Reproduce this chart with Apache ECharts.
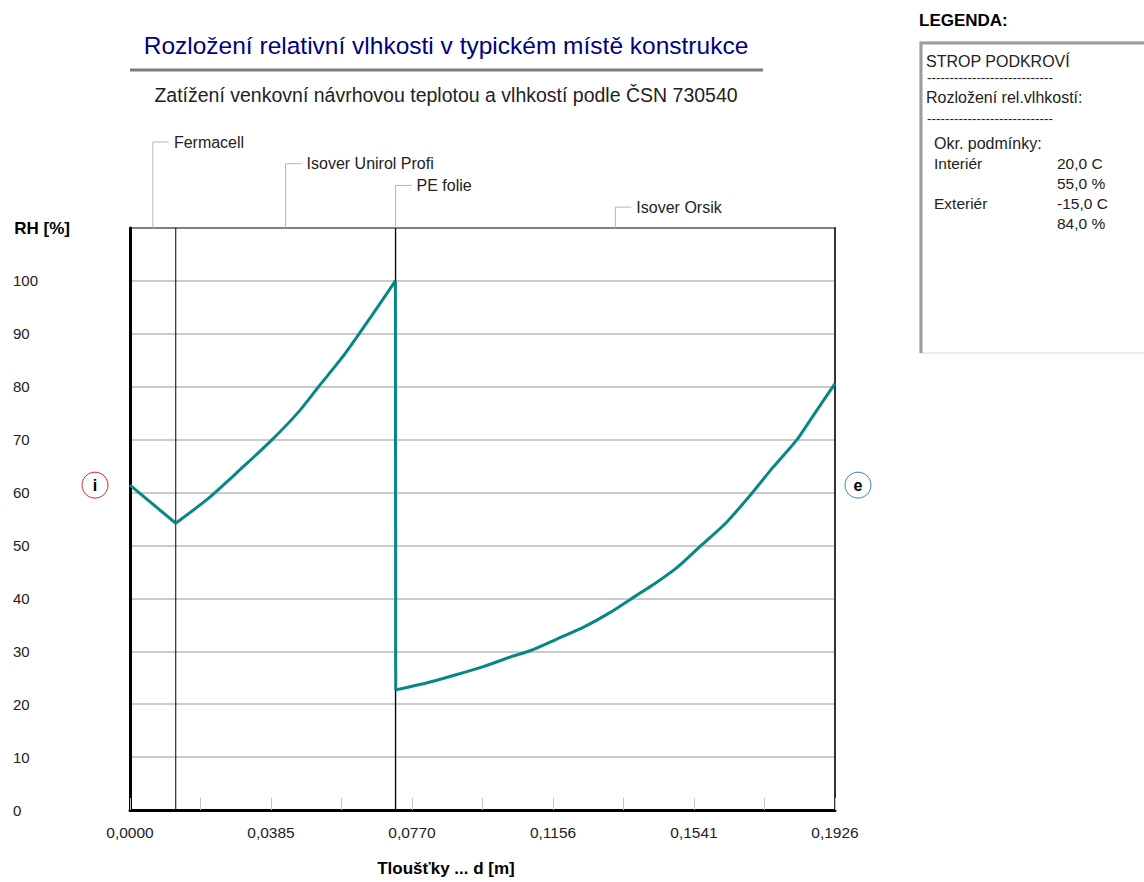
<!DOCTYPE html>
<html>
<head>
<meta charset="utf-8">
<title>Rozložení relativní vlhkosti</title>
<script src="https://cdn.jsdelivr.net/npm/echarts@6/dist/echarts.min.js"></script>
<style>
    html, body { margin: 0; padding: 0; background: #fff; }
    #chart { width: 1144px; height: 882px; }
</style>
</head>
<body>
<div id="chart"></div>
<script>
'use strict'

// vzdalenost od vnitrniho lice [m] a relativni vlhkost [%]
var depth = [0, 0.0125, 0.0214, 0.0305, 0.0387, 0.0460, 0.0514, 0.0587, 0.0660, 0.0725,
    0.0726, 0.0765, 0.0820, 0.0893, 0.0965, 0.1047, 0.1093, 0.1166, 0.1238, 0.1311,
    0.1389, 0.1430, 0.1494, 0.1562, 0.1630, 0.1703, 0.1757, 0.1821, 0.1867, 0.1926];
var rh = [61.4, 54.2, 58.9, 64.6, 69.9, 75.2, 79.9, 86.2, 93.4, 100.0,
    22.7, 23.3, 24.2, 25.6, 27.1, 29.1, 30.1, 32.3, 34.5, 37.3,
    40.8, 42.6, 45.8, 50.1, 54.4, 60.2, 64.8, 69.9, 74.6, 80.6];

// vrstvy konstrukce
var layerNames = ['Fermacell', 'Isover Unirol Profi', 'PE folie', 'Isover Orsik'];
var layerFrom = [0, 0.0125, 0.0725, 0.0726];
var layerTo = [0.0125, 0.0725, 0.0726, 0.1926];

var xTickLabels = ['0,0000', '0,0385', '0,0770', '0,1156', '0,1541', '0,1926'];
var yTickLabels = ['0', '10', '20', '30', '40', '50', '60', '70', '80', '90', '100'];

// legenda - okrajove podminky
var condNames = ['Interiér', '', 'Exteriér', ''];
var condValues = ['20,0 C', '55,0 %', '-15,0 C', '84,0 %'];

var FONT = "'Liberation Sans', Arial, sans-serif";
var Y_MAX = 110;
var LINE_COLOR = '#088787';

var myChart = echarts.init(document.getElementById('chart'), null, {renderer: 'svg'});

// usek krivky mezi indexy a..b (vcetne)
function segment(a, b) {
    var out = [];
    for (var i = a; i <= b; i++) {
        out.push([depth[i], rh[i]]);
    }
    return out;
}

// svisle cary na rozhrani vrstev
var boundPts = [];
for (var j = 0; j < layerTo.length - 1; j++) {
    boundPts.push([layerTo[j], 0], [layerTo[j], Y_MAX], [layerTo[j], null]);
}

// kazda vrstva zvlast, aby se zlomy na rozhrani nevyhladily
var cuts = [0];
for (var d = 1; d < depth.length; d++) {
    if (layerTo.indexOf(depth[d]) >= 0) cuts.push(d);
}
var rhSeries = [];
for (var s = 0; s < cuts.length - 1; s++) {
    var seg = segment(cuts[s], cuts[s + 1]);
    rhSeries.push({
        name: 'RH',
        type: 'line',
        data: seg,
        showSymbol: false,
        smooth: seg.length > 3 ? 0.25 : false,
        z: 3,
        lineStyle: {color: LINE_COLOR, width: 3},
        itemStyle: {color: LINE_COLOR}
    });
}

var option = {
    animation: false,
    textStyle: {fontFamily: FONT},
    grid: {
        left: 130, right: 309, top: 228, bottom: 70,
        show: true, borderColor: '#000', borderWidth: 1
    },
    xAxis: {
        type: 'value',
        min: 0,
        max: 0.1926,
        interval: 0.01926,
        name: 'Tloušťky ... d [m]',
        nameLocation: 'middle',
        nameGap: 50,
        nameTextStyle: {fontWeight: 'bold', fontSize: 17, color: '#000', padding: [0, 73, 0, 0]},
        axisLine: {lineStyle: {color: '#000', width: 3}},
        axisTick: {inside: true, length: 12, lineStyle: {color: '#c4c4c4', width: 1}},
        splitLine: {show: false},
        axisLabel: {
            margin: 14,
            fontSize: 15.5,
            color: '#222',
            formatter: function (v, idx) {
                return idx % 2 === 0 ? (xTickLabels[idx / 2] || '') : '';
            }
        }
    },
    yAxis: [
        {
            type: 'value',
            min: 0,
            max: Y_MAX,
            interval: 10,
            name: 'RH [%]',
            nameLocation: 'end',
            nameGap: 0,
            nameTextStyle: {
                fontWeight: 'bold', fontSize: 17, color: '#000',
                align: 'right', verticalAlign: 'middle', padding: [0, 60, 0, 0]
            },
            axisLine: {show: true, lineStyle: {color: '#000', width: 3}},
            axisTick: {show: false},
            splitLine: {
                show: true, showMinLine: false, showMaxLine: false,
                lineStyle: {color: '#cbcbcb', width: 2}
            },
            axisLabel: {
                align: 'left',
                margin: 117,
                fontSize: 15,
                color: '#222',
                formatter: function (v, idx) {
                    return yTickLabels[idx] || '';
                }
            }
        },
        {
            type: 'value',
            position: 'right',
            min: 0,
            max: Y_MAX,
            interval: 10,
            axisLine: {show: true, lineStyle: {color: '#333', width: 2}},
            axisTick: {show: false},
            axisLabel: {show: false},
            splitLine: {show: false}
        }
    ],
    series: [
        {
            name: 'vrstvy',
            type: 'line',
            data: boundPts,
            silent: true,
            showSymbol: false,
            connectNulls: false,
            z: 1,
            lineStyle: {color: '#000', width: 1}
        }
    ].concat(rhSeries)
};

myChart.setOption(option);

// popisky, legenda, znacky i/e
var g = [];

g.push({
    type: 'text', x: 446, y: 45,
    style: {text: 'Rozložení relativní vlhkosti v typickém místě konstrukce', font: '24.5px ' + FONT,
        fill: '#000080', align: 'center', verticalAlign: 'middle'}
});
g.push({
    type: 'line', shape: {x1: 130, y1: 70, x2: 763, y2: 70},
    style: {stroke: '#7c7c7c', lineWidth: 3}
});
g.push({
    type: 'text', x: 446, y: 95,
    style: {text: 'Zatížení venkovní návrhovou teplotou a vlhkostí podle ČSN 730540', font: '19.5px ' + FONT,
        fill: '#222', align: 'center', verticalAlign: 'middle'}
});

var topY = myChart.convertToPixel({yAxisIndex: 0}, Y_MAX);
for (var k = 0; k < layerNames.length; k++) {
    var mx = myChart.convertToPixel({xAxisIndex: 0}, (layerFrom[k] + layerTo[k]) / 2);
    var ly = 142 + k * 21.7;
    g.push({
        type: 'polyline', shape: {points: [[mx, topY], [mx, ly], [mx + 16, ly]]},
        style: {stroke: '#b4b4b4', lineWidth: 1, fill: null}
    });
    g.push({
        type: 'text', x: mx + 21, y: ly,
        style: {text: layerNames[k], font: '16px ' + FONT, fill: '#222', align: 'left', verticalAlign: 'middle'}
    });
}

var markY = myChart.convertToPixel({yAxisIndex: 0}, rh[0]);
g.push({
    type: 'circle', shape: {cx: 95, cy: markY, r: 13},
    style: {fill: '#fff', stroke: '#e02525', lineWidth: 1}
});
g.push({
    type: 'text', x: 95, y: markY,
    style: {text: 'i', font: 'bold 16px ' + FONT, fill: '#000', align: 'center', verticalAlign: 'middle'}
});
g.push({
    type: 'circle', shape: {cx: 858, cy: markY, r: 13},
    style: {fill: '#fff', stroke: '#3a80c4', lineWidth: 1}
});
g.push({
    type: 'text', x: 858, y: markY,
    style: {text: 'e', font: 'bold 16px ' + FONT, fill: '#000', align: 'center', verticalAlign: 'middle'}
});

// legenda
g.push({
    type: 'text', x: 919, y: 20,
    style: {text: 'LEGENDA:', font: 'bold 17px ' + FONT, fill: '#000', verticalAlign: 'middle'}
});
g.push({
    type: 'rect', shape: {x: 920, y: 42, width: 240, height: 311},
    style: {fill: '#fff', stroke: '#d8d8d8', lineWidth: 1}
});
g.push({
    type: 'polyline', shape: {points: [[921, 353], [921, 43], [1144, 43]]},
    style: {stroke: '#9c9c9c', lineWidth: 3, fill: null}
});
var legendLines = [
    ['STROP PODKROVÍ', 926, 61],
    ['----------------------------', 927, 77],
    ['Rozložení rel.vlhkostí:', 926, 97],
    ['----------------------------', 927, 118],
    ['Okr. podmínky:', 934, 143]
];
legendLines.forEach(function (r) {
    g.push({
        type: 'text', x: r[1], y: r[2],
        style: {text: r[0], font: (r[0].charAt(0) === '-' ? '13.5px ' : '16px ') + FONT,
            fill: '#222', verticalAlign: 'middle'}
    });
});
for (var c = 0; c < condValues.length; c++) {
    var cy = 163 + c * 20.3;
    g.push({
        type: 'text', x: 934, y: cy,
        style: {text: condNames[c], font: '15.5px ' + FONT, fill: '#222', verticalAlign: 'middle'}
    });
    g.push({
        type: 'text', x: 1057, y: cy,
        style: {text: condValues[c], font: '15.5px ' + FONT, fill: '#222', verticalAlign: 'middle'}
    });
}

myChart.setOption({graphic: g});
</script>
</body>
</html>
